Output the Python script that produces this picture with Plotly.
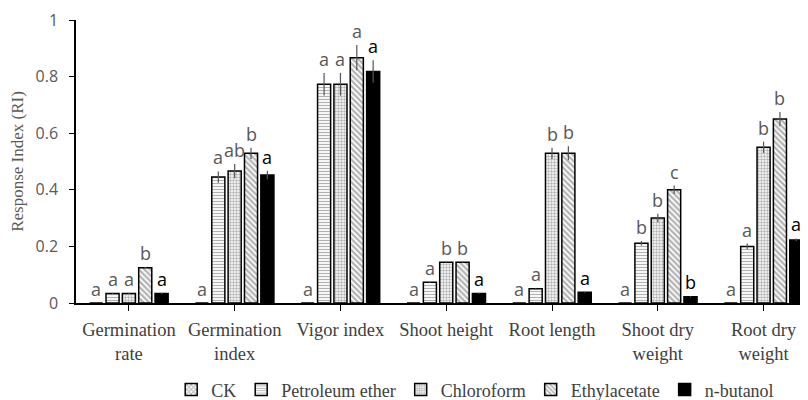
import plotly.graph_objects as go

categories = ["Germination<br>rate", "Germination<br>index", "Vigor index", "Shoot height",
              "Root length", "Shoot dry<br>weight", "Root dry<br>weight"]
series_names = ["CK", "Petroleum ether", "Chloroform", "Ethylacetate", "n-butanol"]

ck = [0, 0, 0, 0, 0, 0, 0]
petroleum = [0.034, 0.445, 0.773, 0.073, 0.050, 0.211, 0.200]
chloroform = [0.034, 0.466, 0.773, 0.144, 0.529, 0.300, 0.550]
ethyl = [0.125, 0.529, 0.867, 0.144, 0.529, 0.400, 0.650]
butanol = [0.034, 0.452, 0.818, 0.034, 0.038, 0.022, 0.223]

ck_err = [0, 0, 0, 0, 0, 0, 0]
petroleum_err = [0.002, 0.02, 0.04, 0.002, 0.002, 0.008, 0.01]
chloroform_err = [0.002, 0.025, 0.04, 0.002, 0.02, 0.015, 0.02]
ethyl_err = [0.002, 0.02, 0.045, 0.002, 0.025, 0.015, 0.025]
butanol_err = [0.002, 0.015, 0.04, 0.002, 0.002, 0.002, 0.005]

ck_letters = ["a"] * 7
petroleum_letters = ["a", "a", "a", "a", "a", "b", "a"]
chloroform_letters = ["a", "ab", "a", "b", "b", "b", "b"]
ethyl_letters = ["b", "b", "a", "b", "b", "c", "b"]
butanol_letters = ["a", "a", "a", "a", "a", "b", "a"]

values = [ck, petroleum, chloroform, ethyl, butanol]
errors = [ck_err, petroleum_err, chloroform_err, ethyl_err, butanol_err]
letters = [ck_letters, petroleum_letters, chloroform_letters, ethyl_letters, butanol_letters]
patterns = ["x", "-", ".", "\\", ""]
pattern_sizes = [4, 3, 3, 4, 4]
pattern_solid = [0.5, 0.4, 0.5, 0.55, 0.3]
fills = ["white", "white", "white", "white", "black"]

SERIF = "Liberation Serif"
SANS = "Open Sans, Liberation Sans, sans-serif"

BARGAP = 0.227
fig = go.Figure()
for i, name in enumerate(series_names):
    marker = dict(color=fills[i], line=dict(color="black", width=1.5))
    if patterns[i]:
        marker["pattern"] = dict(shape=patterns[i], fgcolor="#666666", bgcolor="white",
                                 size=pattern_sizes[i], solidity=pattern_solid[i])
    fig.add_trace(go.Bar(
        name=name, x=list(range(7)), y=values[i],
        marker=marker,
        error_y=dict(type="data", array=errors[i], visible=True, color="#555555",
                     thickness=1.2, width=0),
    ))

slot = (1 - BARGAP) / 5
for i in range(5):
    for k in range(7):
        fig.add_annotation(
            x=k + (i - 2) * slot, y=values[i][k] + errors[i][k],
            xref="x", yref="y", text=letters[i][k], showarrow=False,
            yanchor="bottom", yshift=0,
            font=dict(family=SANS, size=18,
                      color="black" if i == 4 else "#595959"),
        )

fig.update_layout(
    width=800, height=392,
    margin=dict(l=68, r=0, t=12, b=97, autoexpand=False),
    paper_bgcolor="white", plot_bgcolor="white",
    barmode="group", bargap=BARGAP, bargroupgap=0.2,
    showlegend=True,
    legend=dict(orientation="h", x=0.584, xanchor="center", xref="container",
                y=0.026, yanchor="middle", yref="container",
                font=dict(family=SERIF, size=18, color="#404040"),
                itemwidth=30, tracegroupgap=0),
    xaxis=dict(
        tickmode="array", tickvals=list(range(7)), ticktext=categories,
        range=[-0.5, 6.42], showline=True, linecolor="black", linewidth=1.5,
        ticks="outside", tickson="boundaries", ticklen=6, tickcolor="black",
        ticklabelstandoff=3,
        tickfont=dict(family=SERIF, size=18.5, color="#404040"),
        showgrid=False, zeroline=False, automargin=False,
    ),
    yaxis=dict(
        range=[0, 1], tickvals=[0, 0.2, 0.4, 0.6, 0.8, 1],
        ticktext=["0", "0.2", "0.4", "0.6", "0.8", "1"],
        showline=True, linecolor="black", linewidth=1.5,
        ticks="outside", ticklen=5, tickcolor="black",
        ticklabelstandoff=8,
        tickfont=dict(family=SANS, size=16, color="#595959"),
        showgrid=False, zeroline=False, automargin=False,
        title=dict(text="Response Index (RI)", standoff=8,
                   font=dict(family=SERIF, size=17, color="#595959")),
    ),
)

fig.write_html("out.html")
